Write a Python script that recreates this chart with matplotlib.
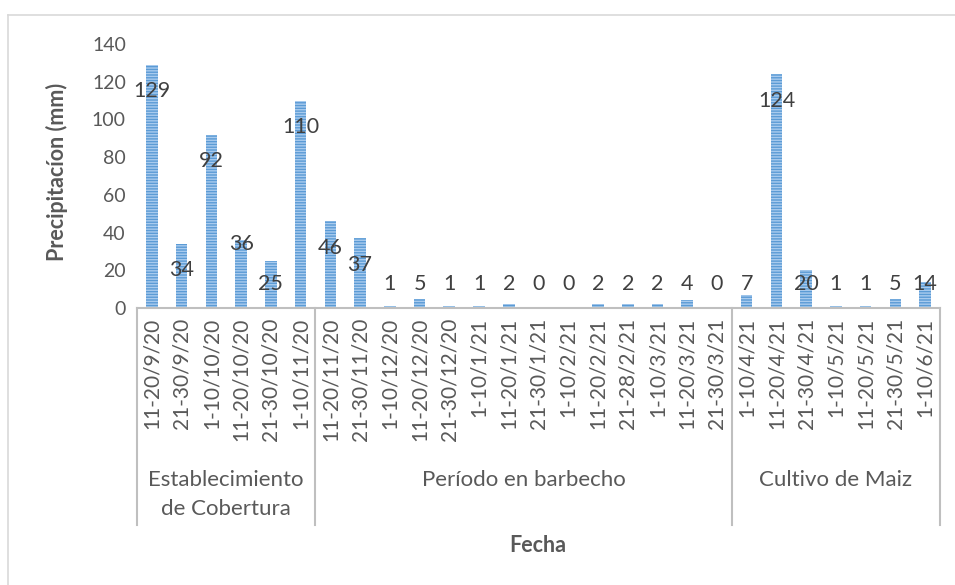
import matplotlib
matplotlib.use("Agg")
import matplotlib.pyplot as plt
from matplotlib.lines import Line2D
from matplotlib.transforms import blended_transform_factory

plt.rcParams['font.family'] = ['Lato', 'DejaVu Sans']
plt.rcParams['hatch.linewidth'] = 1.0

categories = ["11-20/9/20", "21-30/9/20", "1-10/10/20", "11-20/10/20", "21-30/10/20", "1-10/11/20",
              "11-20/11/20", "21-30/11/20", "1-10/12/20", "11-20/12/20", "21-30/12/20", "1-10/1/21",
              "11-20/1/21", "21-30/1/21", "1-10/2/21", "11-20/2/21", "21-28/2/21", "1-10/3/21",
              "11-20/3/21", "21-30/3/21",
              "1-10/4/21", "11-20/4/21", "21-30/4/21", "1-10/5/21", "11-20/5/21", "21-30/5/21", "1-10/6/21"]
values = [129, 34, 92, 36, 25, 110,
          46, 37, 1, 5, 1, 1, 2, 0, 0, 2, 2, 2, 4, 0,
          7, 124, 20, 1, 1, 5, 14]
group_names = [["Establecimiento", "de Cobertura"], ["Período en barbecho"], ["Cultivo de Maiz"]]
group_sizes = [6, 14, 7]

W, H = 955, 585
fig = plt.figure(figsize=(W / 100, H / 100), dpi=100)
x0, x1, y0, y1 = 137, 940, 308, 44
ax = fig.add_axes([x0 / W, 1 - y0 / H, (x1 - x0) / W, (y0 - y1) / H])

xs = list(range(len(values)))
ax.bar(xs, values, width=0.39, color='#5B9BD5', edgecolor='#A9CBEE', linewidth=0, hatch='------')

ax.set_xlim(-0.5, len(values) - 0.5)
ax.set_ylim(0, 140)
ax.set_yticks(range(0, 141, 20))
ax.tick_params(axis='y', length=0, labelsize=14, labelcolor='#595959', pad=8)
ax.set_xticks(xs)
ax.set_xticklabels(categories, rotation=90, fontsize=15, color='#595959')
ax.tick_params(axis='x', length=0, pad=7)
for s in ['top', 'right', 'left']:
    ax.spines[s].set_visible(False)
ax.spines['bottom'].set_color('#BFBFBF')
ax.spines['bottom'].set_linewidth(1.5)

# data labels
for i, v in enumerate(values):
    ly = max(v - 14, 12.5)
    if i == 3:
        ly = v - 2
    ax.text(i, ly, str(v), ha='center', va='center', fontsize=15.5, color='#404040')

# group separators & labels
tr = blended_transform_factory(ax.transData, fig.transFigure)
bounds = [-0.5]
for g in group_sizes:
    bounds.append(bounds[-1] + g)
for b in bounds:
    fig.add_artist(Line2D([b, b], [1 - y0 / H, 1 - 525 / H], transform=tr, color='#BFBFBF', lw=1.5))
for k, names in enumerate(group_names):
    cx = (bounds[k] + bounds[k + 1]) / 2
    for j, nm in enumerate(names):
        fig.text(cx, 1 - (480 + 29 * j) / H, nm, transform=tr, ha='center', va='center',
                 fontsize=16, color='#595959')

fig.text(538 / W, 1 - 545 / H, "Fecha", ha='center', va='center', fontsize=15.5,
         fontweight='bold', color='#595959')
fig.text(57 / W, 1 - 172 / H, "Precipitacíon (mm)", ha='center', va='center', rotation=90,
         fontsize=15.5, fontweight='bold', color='#595959')

# chart area border
fig.add_artist(Line2D([7.5 / W, 1.01], [1 - 14.5 / H, 1 - 14.5 / H], transform=fig.transFigure,
                      color='#D9D9D9', lw=1.2))
fig.add_artist(Line2D([7.5 / W, 7.5 / W], [1 - 14.5 / H, -0.01], transform=fig.transFigure,
                      color='#D9D9D9', lw=1.2))

fig.savefig("out.png", dpi=100, facecolor='white')
